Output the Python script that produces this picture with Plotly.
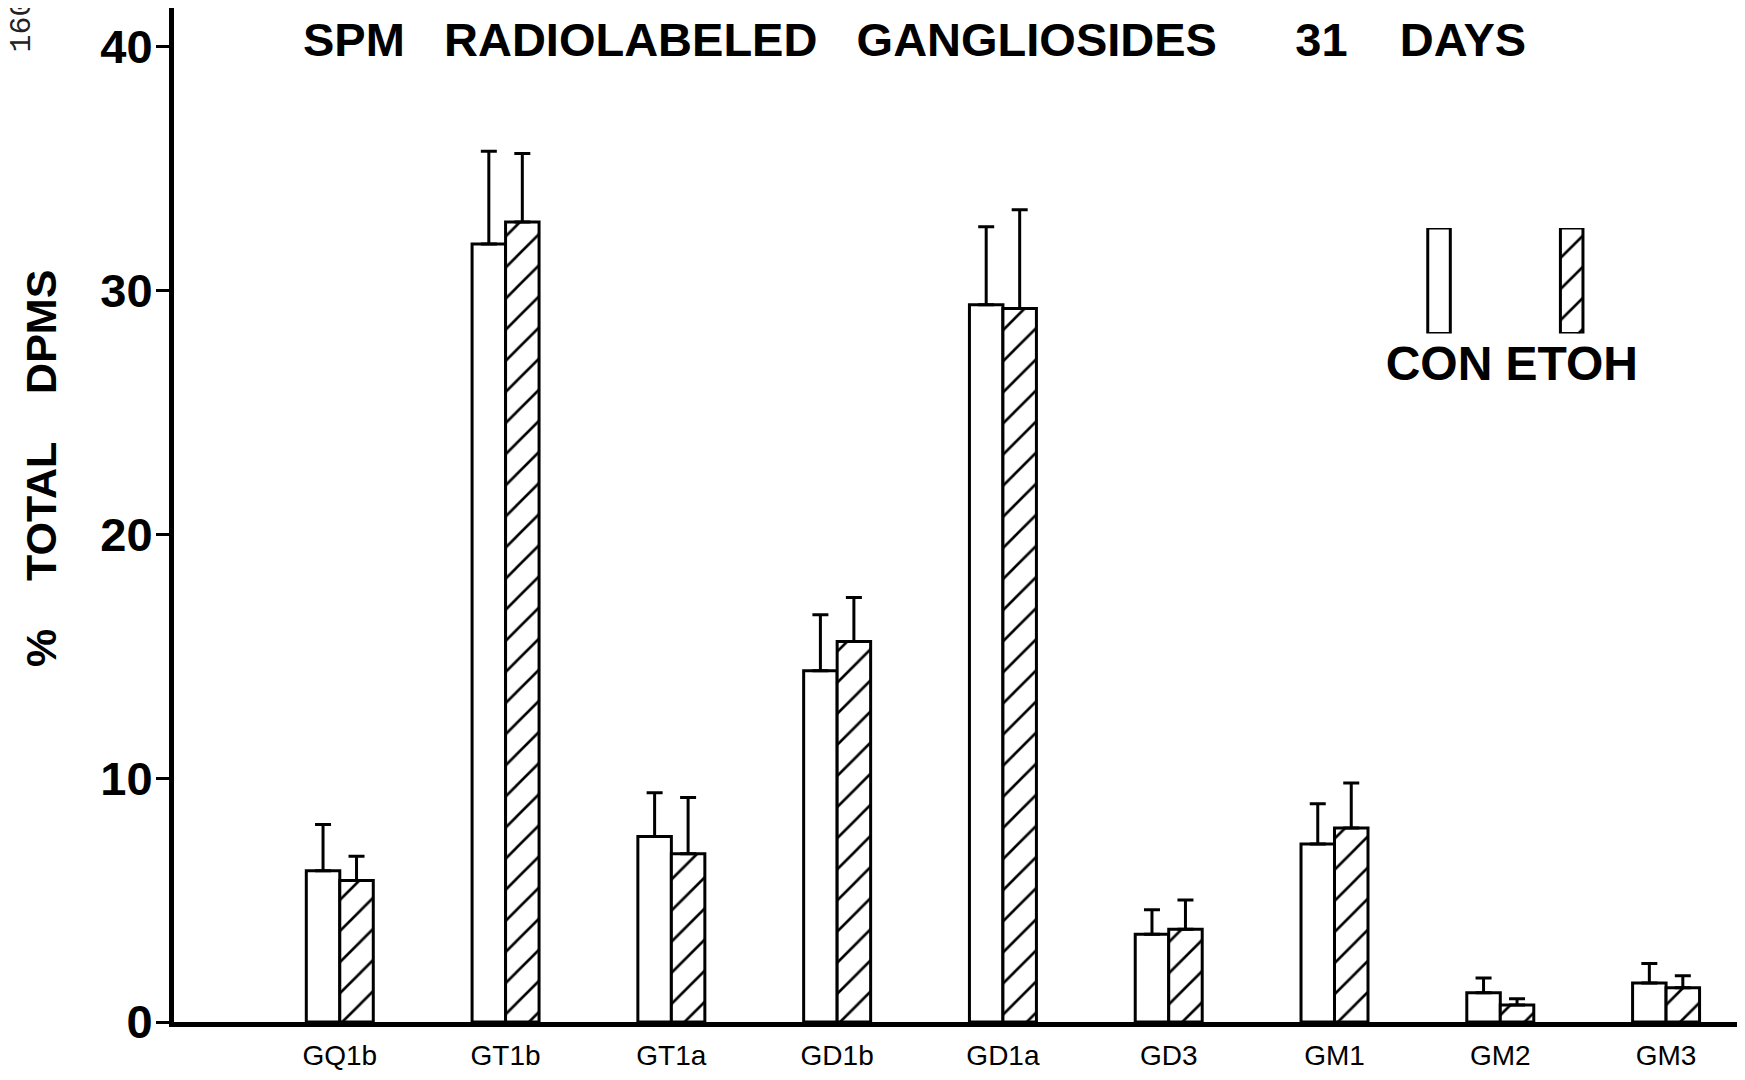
import plotly.graph_objects as go

# ---------------- data ----------------
categories = ["GQ1b", "GT1b", "GT1a", "GD1b", "GD1a", "GD3", "GM1", "GM2", "GM3"]
con_values = [6.2, 31.9, 7.6, 14.4, 29.4, 3.6, 7.3, 1.2, 1.6]
con_err_top = [8.1, 35.7, 9.4, 16.7, 32.6, 4.6, 8.95, 1.8, 2.4]
etoh_values = [5.8, 32.8, 6.9, 15.6, 29.25, 3.8, 7.95, 0.7, 1.4]
etoh_err_top = [6.8, 35.6, 9.2, 17.4, 33.3, 5.0, 9.8, 0.95, 1.9]
y_ticks = [0, 10, 20, 30, 40]
legend_labels = ["CON", "ETOH"]
legend_heights = [1, 1]

NB = "\u00a0"
title_text = "SPM" + NB * 3 + "RADIOLABELED" + NB * 3 + "GANGLIOSIDES" + NB * 6 + "31" + NB * 4 + "DAYS"
y_title_text = "%" + NB * 4 + "TOTAL" + NB * 4 + "DPMS"
page_number = "160"

con_err = [t - v for t, v in zip(con_err_top, con_values)]
etoh_err = [t - v for t, v in zip(etoh_err_top, etoh_values)]

FONT = "Liberation Sans, Arial, sans-serif"
BLACK = "#000000"

hatch = dict(shape="/", size=22, solidity=0.12, fgcolor=BLACK, bgcolor="white", fillmode="replace")

fig = go.Figure()
fig.add_trace(go.Bar(
    x=categories, y=con_values, name="CON",
    marker=dict(color="white", line=dict(color=BLACK, width=3)),
    error_y=dict(type="data", array=con_err, arrayminus=[0] * len(con_err),
                 symmetric=False, color=BLACK, thickness=3, width=8),
    showlegend=False,
))
fig.add_trace(go.Bar(
    x=categories, y=etoh_values, name="ETOH",
    marker=dict(color="white", line=dict(color=BLACK, width=3), pattern=hatch),
    error_y=dict(type="data", array=etoh_err, arrayminus=[0] * len(etoh_err),
                 symmetric=False, color=BLACK, thickness=3, width=8),
    showlegend=False,
))

# legend boxes drawn as a small separate bar subplot
fig.add_trace(go.Bar(
    x=legend_labels, y=legend_heights, xaxis="x2", yaxis="y2", width=0.17,
    marker=dict(color="white", line=dict(color=BLACK, width=3),
                pattern=dict(shape=["", "/"], size=22, solidity=0.12,
                             fgcolor=BLACK, bgcolor="white", fillmode="replace")),
    showlegend=False,
))

fig.update_layout(
    width=1745, height=1080,
    margin=dict(l=166, r=9, t=0, b=66),
    paper_bgcolor="white", plot_bgcolor="rgba(0,0,0,0)",
    barmode="group", bargap=0.596, bargroupgap=0,
    font=dict(family=FONT, color=BLACK),
    xaxis=dict(
        type="category", range=[-1.0, 8.47], domain=[0, 1], automargin=False,
        showline=True, linecolor=BLACK, linewidth=5,
        showgrid=False, zeroline=False, ticks="",
        tickfont=dict(family=FONT, size=28, color=BLACK),
        ticklabelstandoff=4,
    ),
    yaxis=dict(
        range=[0, 41.57], tickvals=y_ticks, domain=[0, 1], automargin=False,
        showline=True, linecolor=BLACK, linewidth=5,
        showgrid=False, zeroline=False,
        ticks="outside", ticklen=13, tickwidth=3, tickcolor=BLACK,
        tickfont=dict(family=FONT, size=47, color=BLACK, weight="bold"),
        ticklabelstandoff=-6,
    ),
    xaxis2=dict(
        anchor="y2", domain=[0.7635, 0.9325], range=[-0.5, 1.5], automargin=False,
        type="category", showline=False, showgrid=False, zeroline=False, ticks="",
        tickfont=dict(family=FONT, size=48, color=BLACK, weight="bold"),
        ticklabelstandoff=-2,
    ),
    yaxis2=dict(
        domain=[0.679, 0.783], anchor="x2", range=[0, 1], visible=False, automargin=False,
    ),
    annotations=[
        dict(text=title_text, xref="paper", yref="paper", x=0.4718, y=0.969,
             xanchor="center", yanchor="middle", showarrow=False,
             font=dict(family=FONT, size=47, color=BLACK, weight="bold")),
        dict(text=y_title_text, xref="paper", yref="paper", x=-0.0851, y=0.5457,
             xanchor="center", yanchor="middle", textangle=-90, showarrow=False,
             font=dict(family=FONT, size=43, color=BLACK, weight="bold")),
        dict(text=page_number, xref="paper", yref="paper", x=-0.0965, y=0.9832,
             xanchor="center", yanchor="middle", textangle=-90, showarrow=False,
             font=dict(family="Liberation Mono, Courier New, monospace", size=30, color="#222222")),
    ],
)

fig.write_html("out.html")
